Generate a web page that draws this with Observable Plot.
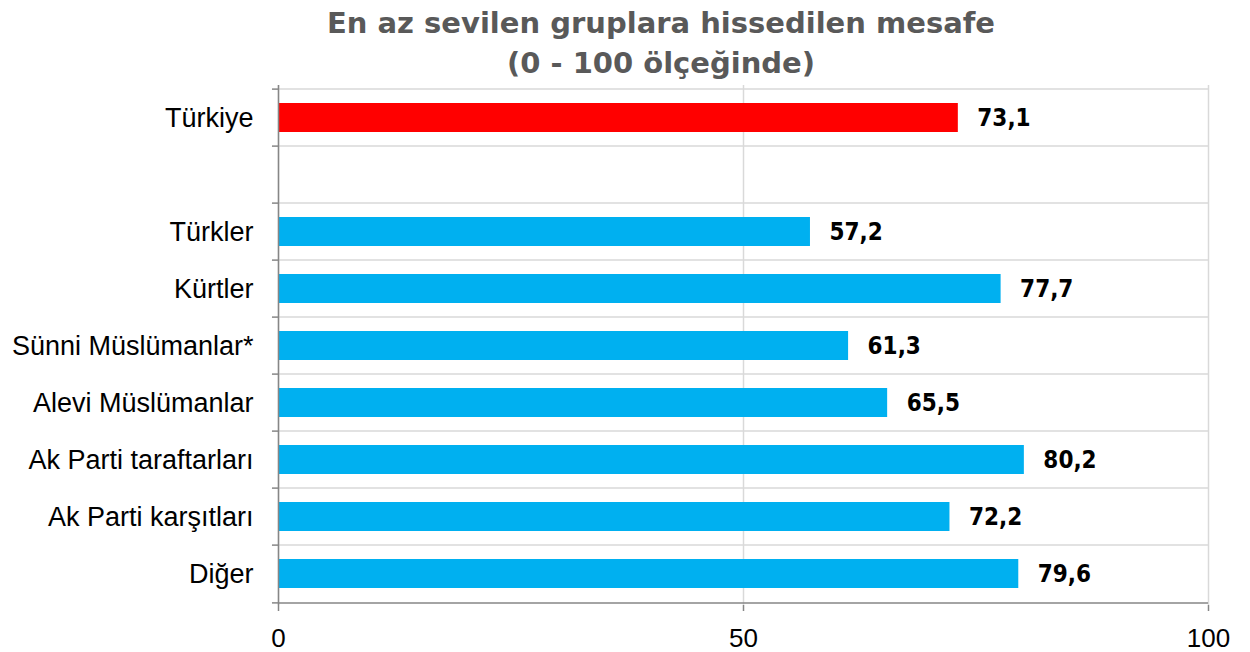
<!DOCTYPE html>
<html>
<head>
<meta charset="utf-8">
<script src="https://cdn.jsdelivr.net/npm/d3@7"></script>
<script src="https://cdn.jsdelivr.net/npm/@observablehq/plot@0.6"></script>
<style>
  html, body { margin: 0; padding: 0; background: #fff; }
  #title {
    width: 1250px; height: 82px; box-sizing: border-box;
    padding-left: 72px; padding-right: 0px;
    text-align: center; color: #595959;
    font-family: "DejaVu Sans", sans-serif;
    font-weight: bold; font-size: 29px; line-height: 40px;
    padding-top: 3px; overflow: hidden;
  }
  #chart svg { display: block; }
</style>
</head>
<body>
<div id="title">En az sevilen gruplara hissedilen mesafe<br>(0 - 100 ölçeğinde)</div>
<div id="chart"></div>
<script>
const groups = ["Türkiye", " ", "Türkler", "Kürtler", "Sünni Müslümanlar*", "Alevi Müslümanlar", "Ak Parti taraftarları", "Ak Parti karşıtları", "Diğer"];
const values = [73.1, null, 57.2, 77.7, 61.3, 65.5, 80.2, 72.2, 79.6];
const highlight = ["Türkiye"];
const xTicks = [0, 50, 100];

const data = groups.map((g, i) => ({group: g, value: values[i]})).filter(d => d.value != null);

const W = 1250, H = 570, mT = 3, mB = 47, mL = 278, mR = 42;
const step = (H - mT - mB) / groups.length;
const gridColor = "#d9d9d9", axisColor = "#868686";
const last = groups[groups.length - 1];

const chart = Plot.plot({
  width: W, height: H,
  marginTop: mT, marginBottom: mB, marginLeft: mL, marginRight: mR,
  style: {fontFamily: "'Liberation Sans', Arial, sans-serif", background: "#fff"},
  x: {domain: [0, 100], axis: null, label: null},
  y: {domain: groups, paddingInner: 0.5, paddingOuter: 0.25, axis: null, label: null},
  marks: [
    Plot.ruleX(xTicks, {stroke: gridColor, strokeWidth: 1.5}),
    Plot.ruleY(groups, {y: d => d, x1: 0, x2: 100, dy: -step / 2, stroke: gridColor, strokeWidth: 1.5}),
    Plot.barX(data, {
      x: "value", y: "group",
      fill: d => highlight.includes(d.group) ? "#ff0000" : "#00b0f0"
    }),
    Plot.ruleX([0], {stroke: axisColor, strokeWidth: 1.5}),
    Plot.ruleY([last], {y: d => d, x1: 0, x2: 100, dy: step / 2, stroke: axisColor, strokeWidth: 1.5}),
    Plot.ruleY(groups, {y: d => d, x1: -0.65, x2: 0, dy: -step / 2, stroke: axisColor, strokeWidth: 1.5}),
    Plot.ruleY([last], {y: d => d, x1: -0.65, x2: 0, dy: step / 2, stroke: axisColor, strokeWidth: 1.5}),
    Plot.axisY({
      label: null, tickSize: 0, tickPadding: 25, fontSize: 27, fill: "#000",
      tickFormat: d => d.trim() === "" ? "" : d
    }),
    Plot.axisX(xTicks, {
      label: null, anchor: "bottom", tickSize: 6, tickPadding: 17, fontSize: 26, fill: "#000",
      stroke: axisColor, strokeWidth: 1.5
    }),
    Plot.text(data, {
      x: "value", y: "group",
      text: d => d.value.toFixed(1).replace(".", ","),
      textAnchor: "start", dx: 19,
      fontSize: 24, fontWeight: "bold", fill: "#000",
      fontFamily: "'DejaVu Sans Condensed', 'DejaVu Sans', sans-serif"
    })
  ]
});
document.getElementById("chart").appendChild(chart);
</script>
</body>
</html>
